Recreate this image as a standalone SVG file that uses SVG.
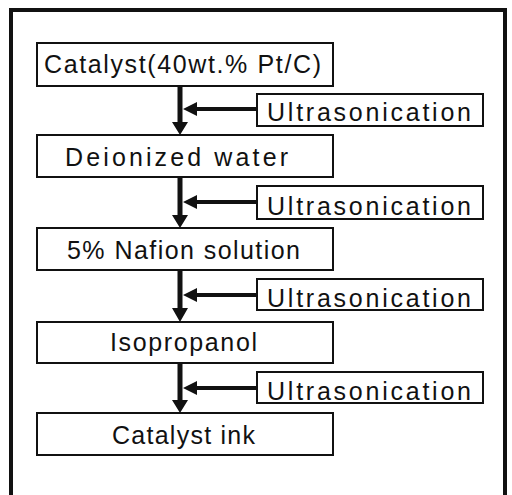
<svg xmlns="http://www.w3.org/2000/svg" width="512" height="495" viewBox="0 0 512 495">
<style>
.box{fill:#fff;stroke:#111;stroke-width:2}
.t{font-family:"Liberation Sans",Arial,sans-serif;font-size:25px;fill:#111}
.ln{stroke:#111;fill:none}
.hd{fill:#111}
</style>
<rect width="512" height="495" fill="#fff"/>
<rect x="11" y="10" width="494" height="500" fill="none" stroke="#111" stroke-width="4"/>
<g id="n1"><rect class="box" x="37" y="43" width="296" height="43"/><text class="t" x="44" y="73" textLength="277" lengthAdjust="spacing">Catalyst(40wt.% Pt/C)</text></g>
<g id="n2"><rect class="box" x="37" y="135" width="296" height="42"/><text class="t" x="65" y="166" textLength="223" lengthAdjust="spacing">Deionized water</text></g>
<g id="n3"><rect class="box" x="37" y="228" width="296" height="42"/><text class="t" x="67" y="259" textLength="233" lengthAdjust="spacing">5% Nafion solution</text></g>
<g id="n4"><rect class="box" x="37" y="322" width="296" height="41"/><text class="t" x="110" y="351" textLength="147" lengthAdjust="spacing">Isopropanol</text></g>
<g id="n5"><rect class="box" x="37" y="413" width="296" height="42"/><text class="t" x="112" y="444" textLength="143" lengthAdjust="spacing">Catalyst ink</text></g>
<g id="u1"><rect class="box" x="257" y="94" width="226" height="32"/><text class="t" x="267" y="121" textLength="204" lengthAdjust="spacing">Ultrasonication</text></g>
<g id="u2"><rect class="box" x="257" y="186" width="226" height="33"/><text class="t" x="267" y="215" textLength="204" lengthAdjust="spacing">Ultrasonication</text></g>
<g id="u3"><rect class="box" x="257" y="279" width="226" height="31"/><text class="t" x="267" y="307" textLength="204" lengthAdjust="spacing">Ultrasonication</text></g>
<g id="u4"><rect class="box" x="257" y="372" width="226" height="31"/><text class="t" x="267" y="400" textLength="204" lengthAdjust="spacing">Ultrasonication</text></g>
<g id="connectors">
<path class="ln" stroke-width="5" d="M180 86V123M180 177V216M180 270V309M180 363V401"/>
<path class="hd" d="M172 122L188 122L180 135ZM172 215L188 215L180 228ZM172 308L188 308L180 322ZM172 400L188 400L180 413Z"/>
<path class="ln" stroke-width="4" d="M257 109H194M257 202H194M257 295H194M257 388H194"/>
<path class="hd" d="M183 109L197 102L197 116ZM183 202L197 195L197 209ZM183 295L197 288L197 302ZM183 388L197 381L197 395Z"/>
</g>
</svg>
